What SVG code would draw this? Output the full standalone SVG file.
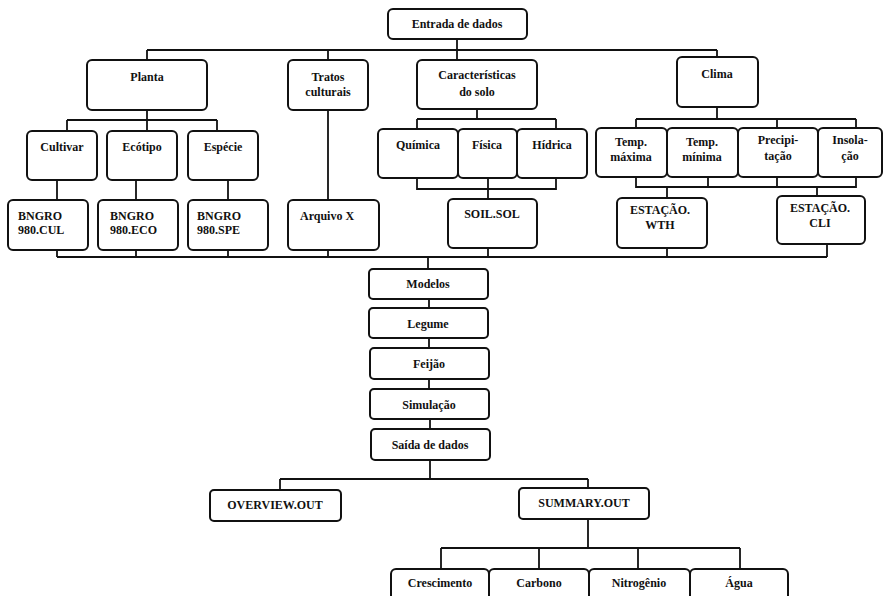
<svg xmlns="http://www.w3.org/2000/svg" width="884" height="596" viewBox="0 0 884 596">
<style>
.b{fill:#fff;stroke:#111;stroke-width:2}
.c{fill:none;stroke:#111;stroke-width:1.8}
text{font-family:"Liberation Serif","DejaVu Serif",serif;font-weight:bold;font-size:12px;fill:#111}
.m{text-anchor:middle}
</style>
<rect width="884" height="596" fill="#fff"/>
<g id="connectors" class="c">
<path d="M457 39V60M147 50H717M147 50V60M328 50V60M717 50V57"/>
<path d="M147 110V131M67 120H217M67 120V131M217 120V131"/>
<path d="M57 180V200M136 180V200M228 180V200M328 110V200"/>
<path d="M477 109V119M417 119H556M417 119V129M556 119V129M417 178V189H556V178M488 178V199"/>
<path d="M717 107V119M636 119H856M636 119V128M777 119V128M856 119V128M636 177V187H856V177M708 177V187M777 177V187M667 187V198M817 187V196"/>
<path d="M57 257H827M57 250V257M136 250V257M228 250V257M328 250V257M488 248V257M667 248V257M827 244V257M428 257V269"/>
<path d="M429 299V308M429 338V348M429 379V389M430 419V429"/>
<path d="M430 460V479M280 479H588M280 479V490M588 479V488"/>
<path d="M588 519V548M441 548H740M441 548V569M539 548V569M638 548V569M740 548V569"/>
</g>
<g id="entrada"><rect class="b" x="388" y="9" width="139" height="30" rx="5"/><text class="m" x="457" y="28">Entrada de dados</text></g>
<g id="planta"><rect class="b" x="87" y="60" width="120" height="50" rx="5"/><text class="m" x="147" y="81">Planta</text></g>
<g id="tratos"><rect class="b" x="288" y="60" width="80" height="50" rx="5"/><text class="m" x="328" y="81">Tratos</text><text class="m" x="328" y="96">culturais</text></g>
<g id="caracteristicas"><rect class="b" x="417" y="60" width="120" height="49" rx="5"/><text class="m" x="477" y="79">Características</text><text class="m" x="477" y="96">do solo</text></g>
<g id="clima"><rect class="b" x="677" y="57" width="81" height="50" rx="5"/><text class="m" x="717" y="78">Clima</text></g>
<g id="cultivar"><rect class="b" x="27" y="131" width="70" height="49" rx="5"/><text class="m" x="62" y="151">Cultivar</text></g>
<g id="ecotipo"><rect class="b" x="107" y="131" width="70" height="49" rx="5"/><text class="m" x="142" y="151">Ecótipo</text></g>
<g id="especie"><rect class="b" x="188" y="131" width="70" height="49" rx="5"/><text class="m" x="223" y="151">Espécie</text></g>
<g id="quimica"><rect class="b" x="378" y="129" width="80" height="49" rx="5"/><text class="m" x="418" y="149">Química</text></g>
<g id="fisica"><rect class="b" x="458" y="129" width="59" height="49" rx="5"/><text class="m" x="487" y="149">Física</text></g>
<g id="hidrica"><rect class="b" x="517" y="129" width="70" height="49" rx="5"/><text class="m" x="552" y="149">Hídrica</text></g>
<g id="tmax"><rect class="b" x="596" y="128" width="71" height="49" rx="5"/><text class="m" x="631" y="146">Temp.</text><text class="m" x="631" y="161">máxima</text></g>
<g id="tmin"><rect class="b" x="667" y="128" width="71" height="49" rx="5"/><text class="m" x="702" y="146">Temp.</text><text class="m" x="702" y="161">mínima</text></g>
<g id="precip"><rect class="b" x="738" y="128" width="80" height="49" rx="5"/><text class="m" x="778" y="144">Precipi-</text><text class="m" x="778" y="160">tação</text></g>
<g id="insol"><rect class="b" x="818" y="128" width="64" height="49" rx="5"/><text class="m" x="850" y="144">Insola-</text><text class="m" x="850" y="160">ção</text></g>
<g id="cul"><rect class="b" x="8" y="200" width="80" height="50" rx="5"/><text x="18" y="220">BNGRO</text><text x="18" y="234">980.CUL</text></g>
<g id="eco"><rect class="b" x="98" y="200" width="80" height="50" rx="5"/><text x="110" y="220">BNGRO</text><text x="110" y="234">980.ECO</text></g>
<g id="spe"><rect class="b" x="188" y="200" width="80" height="50" rx="5"/><text x="197" y="220">BNGRO</text><text x="197" y="234">980.SPE</text></g>
<g id="arquivo"><rect class="b" x="288" y="200" width="91" height="50" rx="5"/><text x="300" y="220">Arquivo X</text></g>
<g id="soil"><rect class="b" x="448" y="199" width="89" height="49" rx="5"/><text class="m" x="492" y="218">SOIL.SOL</text></g>
<g id="wth"><rect class="b" x="617" y="198" width="90" height="50" rx="5"/><text class="m" x="660" y="214">ESTAÇÃO.</text><text class="m" x="660" y="229">WTH</text></g>
<g id="cli"><rect class="b" x="777" y="196" width="88" height="48" rx="5"/><text class="m" x="820" y="212">ESTAÇÃO.</text><text class="m" x="820" y="227">CLI</text></g>
<g id="modelos"><rect class="b" x="369" y="269" width="119" height="30" rx="4"/><text class="m" x="428" y="288">Modelos</text></g>
<g id="legume"><rect class="b" x="369" y="308" width="119" height="30" rx="4"/><text class="m" x="428" y="328">Legume</text></g>
<g id="feijao"><rect class="b" x="370" y="348" width="119" height="31" rx="4"/><text class="m" x="429" y="368">Feijão</text></g>
<g id="simulacao"><rect class="b" x="370" y="389" width="119" height="30" rx="4"/><text class="m" x="429" y="409">Simulação</text></g>
<g id="saida"><rect class="b" x="371" y="429" width="119" height="31" rx="4"/><text class="m" x="430" y="449">Saída de dados</text></g>
<g id="overview"><rect class="b" x="210" y="490" width="131" height="31" rx="4"/><text class="m" x="275" y="509">OVERVIEW.OUT</text></g>
<g id="summary"><rect class="b" x="519" y="488" width="130" height="31" rx="4"/><text class="m" x="584" y="507">SUMMARY.OUT</text></g>
<g id="crescimento"><rect class="b" x="391" y="569" width="98" height="40" rx="5"/><text class="m" x="440" y="587">Crescimento</text></g>
<g id="carbono"><rect class="b" x="489" y="569" width="100" height="40" rx="5"/><text class="m" x="539" y="587">Carbono</text></g>
<g id="nitrogenio"><rect class="b" x="589" y="569" width="101" height="40" rx="5"/><text class="m" x="639" y="587">Nitrogênio</text></g>
<g id="agua"><rect class="b" x="690" y="569" width="98" height="40" rx="5"/><text class="m" x="739" y="587">Água</text></g>
</svg>
